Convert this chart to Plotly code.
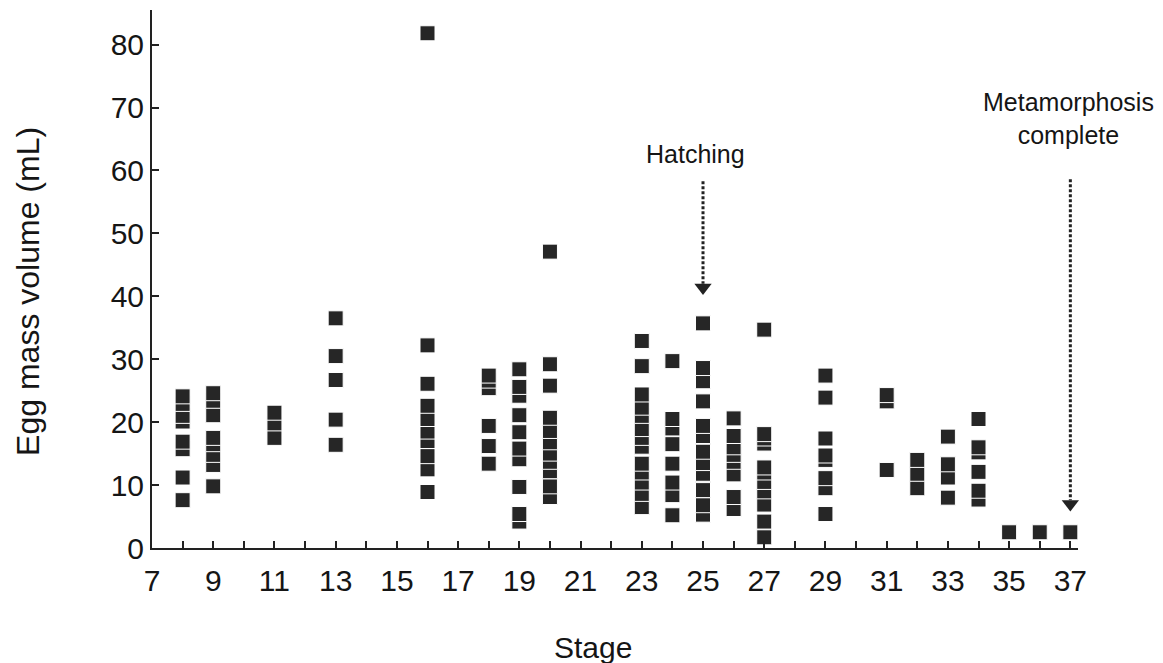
import plotly.graph_objects as go

# ---- data: egg mass volume (mL) per developmental stage ----
stages = [8, 9, 11, 13, 16, 18, 19, 20, 23, 24, 25, 26, 27, 29, 31, 32, 33, 34, 35, 36, 37]
st8 = [7.6, 11.2, 15.7, 16.9, 20.1, 21.0, 22.9, 24.1]
st9 = [9.8, 13.2, 14.8, 16.5, 17.5, 21.1, 23.4, 24.6]
st11 = [17.5, 19.8, 21.5]
st13 = [16.4, 20.4, 26.7, 30.5, 36.5]
st16 = [8.9, 12.5, 14.6, 17.0, 18.5, 20.5, 22.6, 26.1, 32.2, 81.8]
st18 = [13.4, 16.2, 19.4, 25.4, 26.6, 27.4]
st19 = [4.2, 5.4, 9.7, 14.1, 15.8, 18.4, 21.1, 24.2, 25.6, 28.4]
st20 = [8.1, 9.8, 12.2, 13.7, 15.0, 16.8, 18.6, 20.7, 25.8, 29.2, 47.1]
st23 = [6.5, 8.6, 10.4, 12.0, 13.4, 16.1, 17.5, 18.9, 21.0, 22.3, 24.4, 28.9, 32.9]
st24 = [5.2, 8.4, 10.4, 13.4, 16.5, 19.0, 20.5, 29.7]
st25 = [5.3, 6.8, 9.2, 11.8, 13.5, 15.3, 17.8, 19.4, 23.3, 26.5, 28.6, 35.7]
st26 = [6.2, 8.1, 11.7, 13.7, 14.8, 16.0, 17.8, 20.6]
st27 = [1.7, 4.2, 6.9, 9.0, 10.5, 12.0, 12.8, 16.6, 17.4, 18.1, 34.7]
st29 = [5.4, 9.5, 11.1, 14.0, 14.7, 17.4, 23.9, 27.4]
st31 = [12.4, 23.3, 24.3]
st32 = [9.5, 11.8, 14.0]
st33 = [8.0, 11.2, 13.3, 17.7]
st34 = [7.7, 9.1, 12.1, 15.2, 16.0, 20.5]
st35 = [2.5]
st36 = [2.5]
st37 = [2.5]
volumes = [st8, st9, st11, st13, st16, st18, st19, st20, st23, st24, st25, st26,
           st27, st29, st31, st32, st33, st34, st35, st36, st37]

x_ticks = list(range(7, 38))
x_labels = [str(v) if v % 2 == 1 else "" for v in x_ticks]
y_ticks = [0, 10, 20, 30, 40, 50, 60, 70, 80]

# event markers
hatch_stage, hatch_top, hatch_end = 25, 58.3, 42.0
meta_stage, meta_top, meta_end = 37, 58.6, 7.6

xs, ys = [], []
for s, vals in zip(stages, volumes):
    for v in vals:
        xs.append(s)
        ys.append(v)

FONT = "Liberation Sans Narrow, Arial Narrow, Liberation Sans, Arial, sans-serif"
INK = "#151515"

fig = go.Figure()
fig.add_trace(go.Scatter(
    x=xs, y=ys, mode="markers",
    marker=dict(symbol="square", size=15, color="#262626",
                line=dict(color="white", width=1)),
    cliponaxis=False, showlegend=False, hoverinfo="x+y"))

for sx, top, end in [(hatch_stage, hatch_top, hatch_end), (meta_stage, meta_top, meta_end)]:
    fig.add_trace(go.Scatter(
        x=[sx, sx], y=[top, end], mode="lines",
        line=dict(color="#222", width=3, dash="3px,2px"),
        showlegend=False, hoverinfo="skip", cliponaxis=False))
    fig.add_trace(go.Scatter(
        x=[sx], y=[end - 0.6], mode="markers",
        marker=dict(symbol="triangle-down", size=15, color="#222"),
        showlegend=False, hoverinfo="skip", cliponaxis=False))

fig.add_annotation(x=24.75, y=62.6, xref="x", yref="y", text="Hatching",
                   showarrow=False, font=dict(family=FONT, size=25, color=INK))
fig.add_annotation(x=37, y=68.2, xref="x", yref="y", xshift=-2, xanchor="center",
                   text="Metamorphosis<br>complete",
                   showarrow=False, font=dict(family=FONT, size=25, color=INK))
# axis titles
fig.add_annotation(x=0, y=40.7, xref="paper", yref="y", xshift=-124, xanchor="center",
                   yanchor="middle", text="Egg mass volume (mL)",
                   textangle=-90, showarrow=False, font=dict(family=FONT, size=32, color=INK))
fig.add_annotation(x=21.4, y=0, xref="x", yref="paper", yshift=-99, xanchor="center",
                   yanchor="middle", text="Stage",
                   showarrow=False, font=dict(family=FONT, size=30, color=INK))

fig.update_layout(
    width=1163, height=663,
    margin=dict(l=152, r=85, t=10, b=115),
    paper_bgcolor="white", plot_bgcolor="white",
    font=dict(family=FONT, color=INK),
    xaxis=dict(range=[7, 37.25], tickmode="array", tickvals=x_ticks, ticktext=x_labels,
               ticks="inside", ticklen=7, tickwidth=2, tickcolor="#222",
               showline=True, linecolor="#222", linewidth=2, showgrid=False, zeroline=False,
               ticklabelstandoff=5,
               tickfont=dict(family=FONT, size=30, color=INK)),
    yaxis=dict(range=[0, 85.5], tickmode="array", tickvals=y_ticks,
               ticks="inside", ticklen=7, tickwidth=2, tickcolor="#222",
               showline=True, linecolor="#222", linewidth=2, showgrid=False, zeroline=False,
               tickfont=dict(family=FONT, size=30, color=INK)),
)

fig.write_html("out.html")
